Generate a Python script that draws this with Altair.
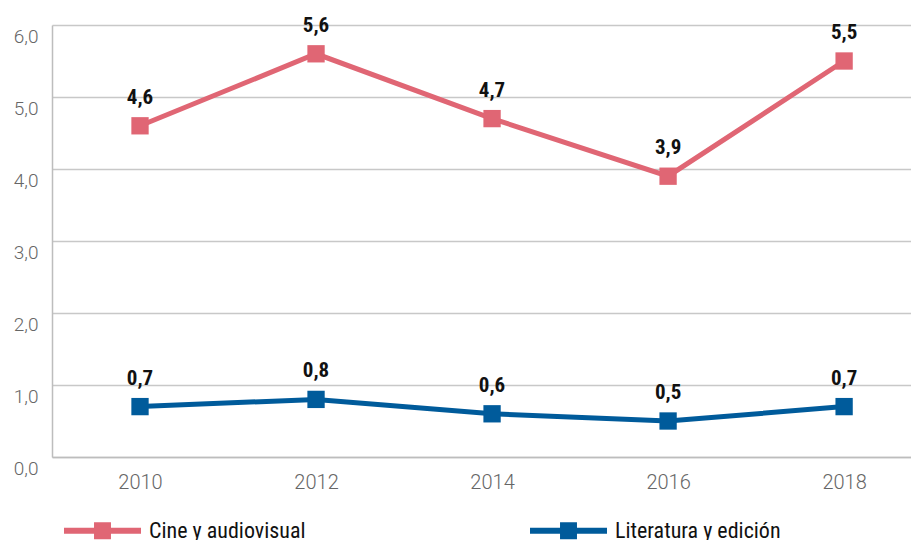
import altair as alt
import pandas as pd

years = [2010, 2012, 2014, 2016, 2018]
cine = [4.6, 5.6, 4.7, 3.9, 5.5]
literatura = [0.7, 0.8, 0.6, 0.5, 0.7]
series_names = ["Cine y audiovisual", "Literatura y edición"]
series_colors = ["#E06674", "#005B9B"]
y_ticks = [0, 1, 2, 3, 4, 5, 6]

rows = []
for name, vals in zip(series_names, [cine, literatura]):
    for yr, v in zip(years, vals):
        rows.append({"year": yr, "value": v, "serie": name,
                     "label": f"{v:.1f}".replace(".", ",")})
df = pd.DataFrame(rows)

LIGHT = "Roboto"
COND = "Liberation Sans Narrow, Roboto Condensed, Roboto, sans-serif"

x = alt.X("year:Q",
          scale=alt.Scale(domain=[2009, 2018.76], nice=False, zero=False),
          axis=alt.Axis(values=years, format="d", title=None, grid=False,
                        ticks=False, domain=True, domainColor="#bdbdbd",
                        domainWidth=1.5, labelFont=LIGHT, labelFontWeight=300,
                        labelFontSize=20, labelColor="#666666", labelPadding=15,
                        labelBaseline="top"))
y = alt.Y("value:Q",
          scale=alt.Scale(domain=[0, 6], nice=False),
          axis=alt.Axis(values=y_ticks, title=None, grid=True, gridColor="#c8c8c8",
                        gridWidth=1.5, ticks=False, domain=True, domainColor="#bdbdbd",
                        domainWidth=1.5, labelFont=LIGHT, labelFontWeight=300,
                        labelFontSize=19, labelColor="#666666", labelPadding=14,
                        labelBaseline="top", labelOffset=2,
                        labelExpr="replace(format(datum.value, '.1f'), '.', ',')"))

legend_shape = ("M-1,-0.078 L1,-0.078 L1,0.078 L-1,0.078 Z "
                "M-0.22,-0.22 L0.22,-0.22 L0.22,0.22 L-0.22,0.22 Z")

color = alt.Color("serie:N",
                  scale=alt.Scale(domain=series_names, range=series_colors),
                  legend=alt.Legend(title=None, orient="none", direction="horizontal",
                                    legendX=12, legendY=467, columns=2,
                                    columnPadding=224, symbolType=legend_shape,
                                    symbolSize=5929, symbolStrokeWidth=0,
                                    symbolOpacity=1, labelFont=COND, labelFontSize=22,
                                    labelColor="#111111", labelOffset=8,
                                    labelLimit=400))

base = alt.Chart(df)
lines = base.mark_line(strokeWidth=5).encode(x=x, y=y, color=color)
points = base.mark_point(shape="square", filled=True, size=300, opacity=1).encode(
    x=x, y=y, color=alt.Color("serie:N", scale=alt.Scale(domain=series_names, range=series_colors), legend=None))
labels = base.mark_text(font=COND, fontWeight="bold", fontSize=21, color="#111111",
                        baseline="alphabetic", dy=-22).encode(x=x, y=y, text="label:N")

chart = (lines + points + labels).properties(
    width=859, height=432,
    autosize=alt.AutoSizeParams(type="none"),
    padding={"left": 44, "top": 17, "right": 0, "bottom": 83},
).configure_view(stroke=None)

chart.save("out.html", embed_options={"renderer": "svg", "actions": False})
